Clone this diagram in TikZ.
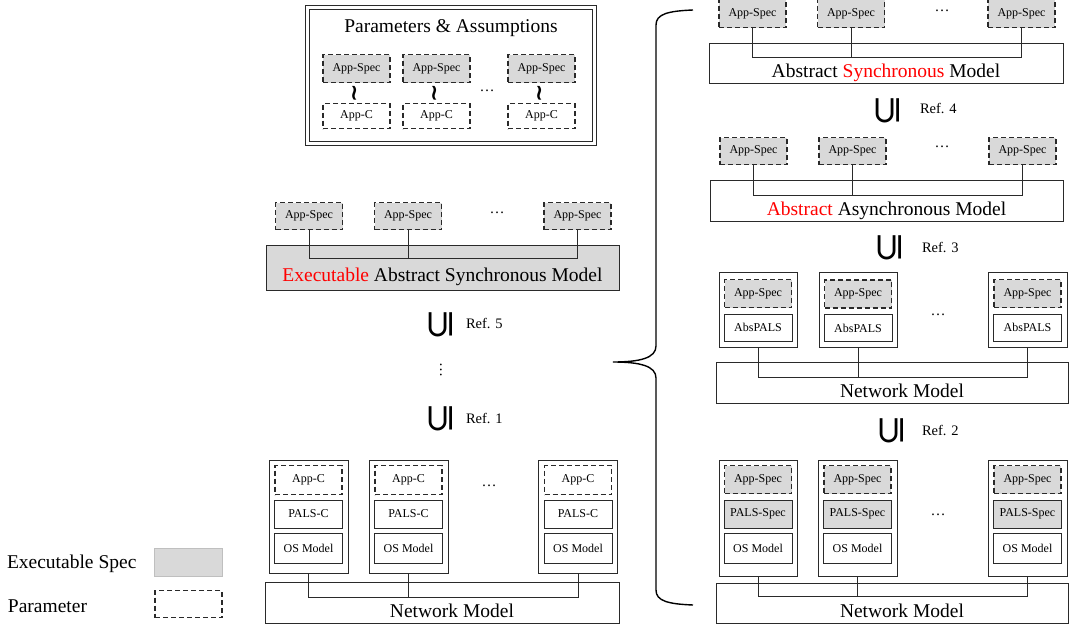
\documentclass[tikz,border=0pt]{standalone}
\usepackage{fontspec}
\setmainfont{Liberation Serif}
\newfontfamily\dejavu{DejaVu Sans}
\usetikzlibrary{calc}
\definecolor{specgray}{HTML}{D9D9D9}
\definecolor{linegray}{HTML}{2A2A2A}
\tikzset{
  every node/.style={inner sep=0pt, outer sep=0pt},
  plainbox/.style={draw=linegray, line width=0.9pt, rectangle},
  spec/.style={draw=linegray, line width=1.9pt, dash pattern=on 5pt off 3pt, fill=specgray, rectangle, font=\fontsize{12}{12}\selectfont},
  param/.style={spec, fill=white},
  layer/.style={plainbox, fill=white, font=\fontsize{12}{12}\selectfont},
  execlayer/.style={plainbox, fill=specgray, font=\fontsize{12}{12}\selectfont},
  bigtext/.style={anchor=base, font=\fontsize{19.5}{19.5}\selectfont},
  legtext/.style={anchor=base west, font=\fontsize{19.5}{19.5}\selectfont},
  reftext/.style={anchor=base west, font=\fontsize{14.5}{14.5}\selectfont},
  refsym/.style={rotate=90, font=\dejavu\fontsize{38}{38}\selectfont},
  hdots/.style={font=\fontsize{15}{15}\selectfont},
  squig/.style={rotate=90, font=\dejavu\bfseries\fontsize{22}{22}\selectfont},
  bus/.style={draw=linegray, line width=0.9pt},
  bracestyle/.style={draw=black, line width=1.4pt}
}
\begin{document}
\begin{tikzpicture}[x=1pt, y=-1pt]
\useasboundingbox[fill=white] (0,0) rectangle (1074,624);

% ---------- Parameters & Assumptions ----------
\node[draw=linegray, double, double distance=2.6pt, line width=1.1pt, minimum width=287pt, minimum height=136pt] (params) at (451,75.5) {};
\node[bigtext] (ptitle) at (451,32) {Parameters \& Assumptions};
\node[spec, minimum width=67pt, minimum height=28pt] (pa1) at (356.5,68.5) {App-Spec};
\node[spec, minimum width=67pt, minimum height=28pt] (pa2) at (436.5,68.5) {App-Spec};
\node[spec, minimum width=67pt, minimum height=28pt] (pa3) at (541.5,68.5) {App-Spec};
\node[param, minimum width=67pt, minimum height=25pt] (pc1) at (356.5,116) {App-C};
\node[param, minimum width=67pt, minimum height=25pt] (pc2) at (436.5,116) {App-C};
\node[param, minimum width=67pt, minimum height=25pt] (pc3) at (541.5,116) {App-C};
\node[squig] (sq1) at ($(pa1.south)!0.5!(pc1.north)$) {∼};
\node[squig] (sq2) at ($(pa2.south)!0.5!(pc2.north)$) {∼};
\node[squig] (sq3) at ($(pa3.south)!0.5!(pc3.north)$) {∼};
\node[hdots] (pdots) at (487,91) {…};

% ---------- Executable Abstract Synchronous Model ----------
\node[execlayer, minimum width=353pt, minimum height=45pt] (exec) at (442.5,267.5) {};
\node[spec, minimum width=67pt, minimum height=27pt] (ea1) at (309,216) {App-Spec};
\node[spec, minimum width=67pt, minimum height=27pt] (ea2) at (408,216) {App-Spec};
\node[spec, minimum width=67pt, minimum height=27pt] (ea3) at (577.5,216) {App-Spec};
\node[hdots] (edots) at (497,213) {…};
\coordinate (ebus) at (0,258);
\draw[bus] (ea1.south) -- (ea1.south |- ebus) -- (ea3.south |- ebus) -- (ea3.south);
\draw[bus] (ea2.south) -- (ea2.south |- ebus);
\node[bigtext] (exectext) at (442.5,281) {\textcolor{red}{Executable} Abstract Synchronous Model};

% ---------- refinement chain (left) ----------
\node[refsym] (r5) at (441,324.5) {⊆};
\node[reftext] (r5t) at (466,328) {Ref. 5};
\node[hdots, rotate=90] (vd) at (441,370) {…};
\node[refsym] (r1) at (441,419) {⊆};
\node[reftext] (r1t) at (466,423) {Ref. 1};

% ---------- bottom left: C level ----------
\node[plainbox, minimum width=79pt, minimum height=113pt] (lc1) at (308.5,516.5) {};
\node[plainbox, minimum width=79pt, minimum height=113pt] (lc2) at (408.5,516.5) {};
\node[plainbox, minimum width=79pt, minimum height=113pt] (lc3) at (578,516.5) {};
\node[param, minimum width=67pt, minimum height=29pt] (lac1) at (308.5,480) {App-C};
\node[param, minimum width=67pt, minimum height=29pt] (lac2) at (408.5,480) {App-C};
\node[param, minimum width=67pt, minimum height=29pt] (lac3) at (578,480) {App-C};
\node[layer, minimum width=68pt, minimum height=28pt] (lpc1) at (308.5,514) {PALS-C};
\node[layer, minimum width=68pt, minimum height=28pt] (lpc2) at (408.5,514) {PALS-C};
\node[layer, minimum width=68pt, minimum height=28pt] (lpc3) at (578,514) {PALS-C};
\node[layer, minimum width=68pt, minimum height=30pt] (los1) at (308.5,548) {OS Model};
\node[layer, minimum width=68pt, minimum height=30pt] (los2) at (408.5,548) {OS Model};
\node[layer, minimum width=68pt, minimum height=30pt] (los3) at (578,548) {OS Model};
\node[hdots] (ldots) at (489,486) {…};
\node[plainbox, minimum width=354pt, minimum height=41pt] (lnet) at (442,602.5) {};
\coordinate (lbus) at (0,597);
\draw[bus] (lc1.south) -- (lc1.south |- lbus) -- (lc3.south |- lbus) -- (lc3.south);
\draw[bus] (lc2.south) -- (lc2.south |- lbus);
\node[bigtext] (lnettext) at (452,617) {Network Model};

% ---------- right: Abstract Synchronous Model ----------
\node[plainbox, minimum width=354pt, minimum height=40pt] (asm) at (886,63) {};
\node[spec, minimum width=67pt, minimum height=28pt] (sa1) at (752.5,13.5) {App-Spec};
\node[spec, minimum width=67pt, minimum height=28pt] (sa2) at (851,13.5) {App-Spec};
\node[spec, minimum width=67pt, minimum height=28pt] (sa3) at (1021.5,13.5) {App-Spec};
\node[hdots] (sdots) at (942,11) {…};
\coordinate (sbus) at (0,57);
\draw[bus] (sa1.south) -- (sa1.south |- sbus) -- (sa3.south |- sbus) -- (sa3.south);
\draw[bus] (sa2.south) -- (sa2.south |- sbus);
\node[bigtext] (asmtext) at (886,77) {Abstract \textcolor{red}{Synchronous} Model};

\node[refsym] (r4) at (888,110.5) {⊆};
\node[reftext] (r4t) at (920,113) {Ref. 4};

% ---------- right: Abstract Asynchronous Model ----------
\node[plainbox, minimum width=353pt, minimum height=41pt] (aasm) at (886.5,200.5) {};
\node[spec, minimum width=67pt, minimum height=27pt] (aa1) at (753.5,151) {App-Spec};
\node[spec, minimum width=67pt, minimum height=27pt] (aa2) at (852.5,151) {App-Spec};
\node[spec, minimum width=67pt, minimum height=27pt] (aa3) at (1022.5,151) {App-Spec};
\node[hdots] (adots) at (942,147) {…};
\coordinate (abus) at (0,195);
\draw[bus] (aa1.south) -- (aa1.south |- abus) -- (aa3.south |- abus) -- (aa3.south);
\draw[bus] (aa2.south) -- (aa2.south |- abus);
\node[bigtext] (aasmtext) at (886.5,215) {\textcolor{red}{Abstract} Asynchronous Model};

\node[refsym] (r3) at (890,248) {⊆};
\node[reftext] (r3t) at (922,252) {Ref. 3};

% ---------- right: AbsPALS ----------
\node[plainbox, minimum width=78pt, minimum height=75pt] (bc1) at (758,309.5) {};
\node[plainbox, minimum width=78pt, minimum height=75pt] (bc2) at (858,310) {};
\node[plainbox, minimum width=79pt, minimum height=75pt] (bc3) at (1027.5,309.5) {};
\node[spec, minimum width=67pt, minimum height=28pt] (ba1) at (758,293.5) {App-Spec};
\node[spec, minimum width=67pt, minimum height=28pt] (ba2) at (858,294) {App-Spec};
\node[spec, minimum width=67pt, minimum height=28pt] (ba3) at (1027.5,293.5) {App-Spec};
\node[layer, minimum width=68pt, minimum height=27pt] (bp1) at (758,327.5) {AbsPALS};
\node[layer, minimum width=68pt, minimum height=27pt] (bp2) at (858,328) {AbsPALS};
\node[layer, minimum width=68pt, minimum height=27pt] (bp3) at (1027.5,327.5) {AbsPALS};
\node[hdots] (bdots) at (938,315) {…};
\node[plainbox, minimum width=352pt, minimum height=41pt] (bnet) at (892,382.5) {};
\coordinate (bbus) at (0,377);
\draw[bus] (bc1.south) -- (bc1.south |- bbus) -- (bc3.south |- bbus) -- (bc3.south);
\draw[bus] (bc2.south) -- (bc2.south |- bbus);
\node[bigtext] (bnettext) at (902,397) {Network Model};

\node[refsym] (r2) at (892,431) {⊆};
\node[reftext] (r2t) at (922,435) {Ref. 2};

% ---------- right: PALS-Spec ----------
\node[plainbox, minimum width=78pt, minimum height=116pt] (rc1) at (758,518) {};
\node[plainbox, minimum width=79pt, minimum height=116pt] (rc2) at (857.5,518) {};
\node[plainbox, minimum width=79pt, minimum height=116pt] (rc3) at (1027.5,518) {};
\node[spec, minimum width=67pt, minimum height=28pt] (ra1) at (758,479.5) {App-Spec};
\node[spec, minimum width=67pt, minimum height=28pt] (ra2) at (857.5,479.5) {App-Spec};
\node[spec, minimum width=67pt, minimum height=28pt] (ra3) at (1027.5,479.5) {App-Spec};
\node[execlayer, minimum width=68pt, minimum height=28pt] (rp1) at (758,514) {PALS-Spec};
\node[execlayer, minimum width=68pt, minimum height=28pt] (rp2) at (857.5,514) {PALS-Spec};
\node[execlayer, minimum width=68pt, minimum height=28pt] (rp3) at (1027.5,514) {PALS-Spec};
\node[layer, minimum width=68pt, minimum height=30pt] (ro1) at (758,548) {OS Model};
\node[layer, minimum width=68pt, minimum height=30pt] (ro2) at (857.5,548) {OS Model};
\node[layer, minimum width=68pt, minimum height=30pt] (ro3) at (1027.5,548) {OS Model};
\node[hdots] (rdots) at (938,515) {…};
\node[plainbox, minimum width=352pt, minimum height=40pt] (rnet) at (892,603) {};
\coordinate (rbus) at (0,596);
\draw[bus] (rc1.south) -- (rc1.south |- rbus) -- (rc3.south |- rbus) -- (rc3.south);
\draw[bus] (rc2.south) -- (rc2.south |- rbus);
\node[bigtext] (rnettext) at (902,617) {Network Model};

% ---------- brace ----------
\draw[bracestyle] (693,10) .. controls (668,11) and (656,14) .. (656,25) -- (656,346)
  .. controls (656,358) and (640,362) .. (613,362)
  .. controls (640,362) and (656,366) .. (656,378) -- (656,590)
  .. controls (656,601) and (668,604) .. (693,605);

% ---------- legend ----------
\node[legtext] (lg1) at (7,568) {Executable Spec};
\node[plainbox, draw=black!25, fill=specgray, minimum width=68pt, minimum height=28pt] (lgb1) at (188.5,562) {};
\node[legtext] (lg2) at (8,612) {Parameter};
\node[param, minimum width=67pt, minimum height=27pt] (lgb2) at (188.5,604) {};
\end{tikzpicture}
\end{document}
